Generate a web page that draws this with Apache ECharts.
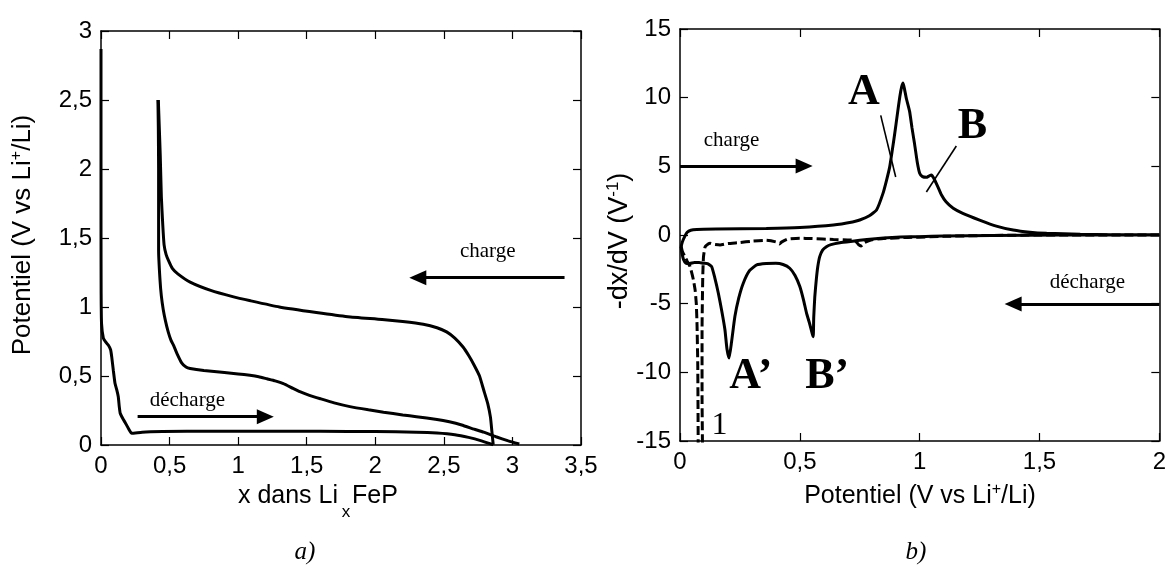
<!DOCTYPE html>
<html>
<head>
<meta charset="utf-8">
<script src="https://cdn.jsdelivr.net/npm/echarts@6/dist/echarts.min.js"></script>
<style>
html,body{margin:0;padding:0;background:#fff;}
#chart{width:1169px;height:573px;}
</style>
</head>
<body>
<div id="chart"></div>
<script>
// ---------- Panel a) : potential vs x in LixFeP ----------
const aXTicks = [0, 0.5, 1, 1.5, 2, 2.5, 3, 3.5];
const aYTicks = [0, 0.5, 1, 1.5, 2, 2.5, 3];

const aFirstDischarge = [[0,2.87],[0,2.3],[0,1.6],[0.001,1.1],[0.004,0.88],[0.017,0.775],[0.035,0.745],[0.053,0.725],[0.07,0.69],[0.078,0.64],[0.09,0.54],[0.102,0.447],[0.115,0.4],[0.126,0.35],[0.133,0.28],[0.14,0.23],[0.16,0.19],[0.175,0.165],[0.2,0.12],[0.224,0.085],[0.3,0.093],[0.45,0.097],[0.8,0.1],[1.2,0.1],[1.6,0.1],[2.0,0.097],[2.3,0.093],[2.45,0.087],[2.58,0.075],[2.68,0.055],[2.78,0.028],[2.86,0.002]];

const aCharge = [[2.86,0.002],[2.85,0.1],[2.84,0.2],[2.82,0.3],[2.79,0.4],[2.76,0.5],[2.72,0.58],[2.68,0.65],[2.64,0.71],[2.58,0.775],[2.52,0.82],[2.45,0.85],[2.35,0.875],[2.2,0.895],[2.05,0.91],[1.8,0.93],[1.57,0.96],[1.3,1.0],[1.09,1.045],[0.96,1.075],[0.8,1.12],[0.65,1.18],[0.56,1.24],[0.52,1.28],[0.495,1.33],[0.475,1.38],[0.46,1.45],[0.45,1.6],[0.44,1.8],[0.432,2.1],[0.425,2.3],[0.418,2.5]];

const aSecondDischarge = [[0.415,2.5],[0.418,2.3],[0.42,2.0],[0.42,1.7],[0.42,1.41],[0.43,1.2],[0.44,1.08],[0.454,0.98],[0.47,0.9],[0.49,0.82],[0.51,0.76],[0.53,0.72],[0.555,0.66],[0.588,0.595],[0.62,0.565],[0.65,0.555],[0.75,0.54],[0.9,0.525],[1.0,0.515],[1.086,0.505],[1.15,0.495],[1.21,0.48],[1.27,0.465],[1.33,0.445],[1.4,0.41],[1.45,0.386],[1.52,0.36],[1.6,0.335],[1.7,0.305],[1.815,0.278],[1.95,0.255],[2.06,0.238],[2.2,0.218],[2.3,0.205],[2.45,0.185],[2.54,0.168],[2.63,0.145],[2.72,0.115],[2.79,0.093],[2.88,0.06],[2.97,0.03],[3.05,0.007]];

// annotations of panel a) (data coordinates)
const aArrows = [ [[3.38,1.212],[2.31,1.212]], [[0.267,0.205],[1.198,0.205]] ];
const aTexts = [ {text:'charge', at:[2.82,1.40]}, {text:'décharge', at:[0.63,0.325]} ];

// ---------- Panel b) : -dx/dV vs potential ----------
const bXTicks = [0, 0.5, 1, 1.5, 2];
const bYTicks = [-15, -10, -5, 0, 5, 10, 15];

const bCycle = [[2.0,0],[1.6,0],[1.3,-0.03],[1.1,-0.08],[1.0,-0.12],[0.92,-0.15],[0.85,-0.22],[0.78,-0.33],[0.72,-0.45],[0.667,-0.56],[0.63,-0.7],[0.611,-0.85],[0.595,-1.1],[0.583,-1.58],[0.575,-2.3],[0.569,-3.2],[0.5625,-4.48],[0.558,-6.0],[0.556,-7.4],[0.552,-7.2],[0.54,-6.4],[0.528,-5.69],[0.515,-4.7],[0.5,-3.75],[0.48,-2.95],[0.458,-2.42],[0.43,-2.15],[0.40,-2.06],[0.36,-2.08],[0.32,-2.18],[0.29,-2.6],[0.264,-3.51],[0.245,-4.6],[0.229,-5.94],[0.215,-7.8],[0.205,-8.96],[0.196,-8.3],[0.1875,-6.9],[0.175,-5.6],[0.16,-4.24],[0.145,-3.1],[0.132,-2.3],[0.115,-2.08],[0.097,-2.06],[0.08,-2.0],[0.06,-2.0],[0.04,-2.08],[0.025,-2.06],[0.015,-1.8],[0.008,-1.3],[0.005,-0.9],[0.01,-0.5],[0.02,-0.1],[0.03,0.2],[0.045,0.35],[0.07,0.4],[0.15,0.43],[0.36,0.48],[0.5,0.55],[0.64,0.73],[0.72,0.95],[0.75,1.09],[0.79,1.4],[0.82,1.82],[0.847,3.03],[0.862,4.0],[0.875,4.96],[0.886,6.2],[0.896,7.39],[0.907,8.8],[0.917,10.05],[0.925,10.8],[0.931,11.07],[0.937,10.6],[0.945,9.9],[0.958,9.0],[0.968,7.8],[0.979,6.6],[0.99,5.3],[1.0,4.5],[1.012,4.25],[1.028,4.2],[1.04,4.3],[1.049,4.36],[1.06,4.1],[1.076,3.51],[1.09,2.95],[1.11,2.42],[1.14,1.95],[1.18,1.58],[1.25,1.09],[1.32,0.65],[1.39,0.36],[1.46,0.2],[1.53,0.12],[1.67,0.05],[1.8,0.02],[2.0,0.02]];

const bFirstDischarge = [[2.0,0],[1.5,0],[1.3,-0.03],[1.1,-0.1],[0.95,-0.18],[0.85,-0.25],[0.8,-0.35],[0.77,-0.55],[0.755,-0.8],[0.745,-0.7],[0.73,-0.4],[0.7,-0.36],[0.64,-0.33],[0.55,-0.26],[0.5,-0.24],[0.45,-0.3],[0.425,-0.5],[0.415,-0.65],[0.4,-0.5],[0.36,-0.38],[0.3,-0.45],[0.25,-0.55],[0.2,-0.62],[0.167,-0.73],[0.14,-0.68],[0.125,-0.6],[0.11,-0.75],[0.104,-0.9],[0.098,-1.6],[0.095,-3],[0.092,-6.9],[0.092,-11.75],[0.094,-16],[0.094,-30],[0.076,-30],[0.076,-16],[0.075,-12],[0.074,-9.3],[0.071,-6.5],[0.068,-5.0],[0.063,-4.0],[0.056,-3.27],[0.042,-2.3],[0.03,-1.9],[0.021,-1.58],[0.01,-1.2],[0.003,-0.7]];

// annotations of panel b) (data coordinates)
const bArrows = [ [[0,5.02],[0.518,5.02]], [[2.0,-5.03],[1.39,-5.03]] ];
const bLeaders = [ [[0.8375,8.71],[0.9,4.22]], [[1.153,6.48],[1.028,3.13]] ];
const bTexts = [ {text:'charge', at:[0.215,6.9], size:21}, {text:'décharge', at:[1.70,-3.45], size:21},
                 {text:'A', at:[0.767,10.4], size:44, bold:true}, {text:'B', at:[1.22,7.9], size:44, bold:true},
                 {text:'A’', at:[0.296,-10.3], size:44, bold:true}, {text:'B’', at:[0.614,-10.3], size:44, bold:true},
                 {text:'1', at:[0.165,-13.9], size:32} ];

// ---------- styles ----------
const SANS = '"Liberation Sans", Arial, sans-serif';
const SERIF = '"Liberation Serif", "Times New Roman", serif';
const comma = v => String(v).replace('.', ',');

function axis(gridIndex, position, ticks, showLabels) {
  return {
    type: 'value', gridIndex, position,
    min: ticks[0], max: ticks[ticks.length - 1], interval: ticks[1] - ticks[0],
    axisLine: {show: true, onZero: false, lineStyle: {color: '#000', width: 1.5}},
    axisTick: {show: true, inside: true, length: 8, lineStyle: {color: '#000', width: 1.2}},
    axisLabel: {show: showLabels, formatter: comma, color: '#000', fontFamily: SANS, fontSize: 24, margin: 9},
    splitLine: {show: false}
  };
}

function curve(data, xi, yi, dashed) {
  return {
    type: 'line', data, xAxisIndex: xi, yAxisIndex: yi,
    showSymbol: false, symbol: 'none', smooth: 0.15, clip: true,
    lineStyle: {color: '#000', width: 3, type: dashed ? [9, 4] : 'solid'},
    animation: false, silent: true
  };
}

function arrowsSeries(arrows, xi, yi) {
  return {
    type: 'line', data: [], xAxisIndex: xi, yAxisIndex: yi, silent: true, animation: false,
    markLine: {
      silent: true, animation: false, symbol: ['none', 'triangle'], symbolSize: [15, 17],
      label: {show: false},
      itemStyle: {color: '#000'},
      lineStyle: {color: '#000', width: 3, type: 'solid'},
      data: arrows.map(a => [{coord: a[0]}, {coord: a[1]}])
    }
  };
}

function leadersSeries(lines, xi, yi) {
  return {
    type: 'line', data: [], xAxisIndex: xi, yAxisIndex: yi, silent: true, animation: false,
    markLine: {
      silent: true, animation: false, symbol: ['none', 'none'],
      label: {show: false},
      lineStyle: {color: '#000', width: 1.6, type: 'solid'},
      data: lines.map(a => [{coord: a[0]}, {coord: a[1]}])
    }
  };
}

function textSeries(texts, xi, yi) {
  return {
    type: 'scatter', xAxisIndex: xi, yAxisIndex: yi, symbolSize: 0, silent: true, animation: false,
    clip: false,
    itemStyle: {opacity: 1, color: '#000'},
    emphasis: {disabled: true},
    data: texts.map(t => ({name: t.text, value: t.at,
      label: {fontSize: t.size || 21, fontWeight: t.bold ? 'bold' : 'normal'}})),
    label: {show: true, position: 'inside', formatter: '{b}', color: '#000', opacity: 1,
            fontFamily: SERIF, fontSize: 21, textBorderWidth: 0}
  };
}

const chart = echarts.init(document.getElementById('chart'));
chart.setOption({
  backgroundColor: '#fff',
  animation: false,
  grid: [
    {left: 101, top: 31, width: 480, height: 414},
    {left: 680, top: 29, width: 480, height: 412}
  ],
  xAxis: [
    axis(0, 'bottom', aXTicks, true),
    axis(0, 'top', aXTicks, false),
    axis(1, 'bottom', bXTicks, true),
    axis(1, 'top', bXTicks, false)
  ],
  yAxis: [
    axis(0, 'left', aYTicks, true),
    axis(0, 'right', aYTicks, false),
    axis(1, 'left', bYTicks, true),
    axis(1, 'right', bYTicks, false)
  ],
  series: [
    curve(aFirstDischarge, 0, 0, false),
    curve(aCharge, 0, 0, false),
    curve(aSecondDischarge, 0, 0, false),
    arrowsSeries(aArrows, 0, 0),
    textSeries(aTexts, 0, 0),
    curve(bFirstDischarge, 2, 2, true),
    curve(bCycle, 2, 2, false),
    arrowsSeries(bArrows, 2, 2),
    leadersSeries(bLeaders, 2, 2),
    textSeries(bTexts, 2, 2)
  ],
  graphic: [
    // panel a) x-axis title with subscript
    {type: 'text', x: 338, y: 496, style: {text: 'x dans Li', font: '25px ' + SANS, fill: '#000', align: 'right', verticalAlign: 'middle'}},
    {type: 'text', x: 346, y: 512, style: {text: 'x', font: '17px ' + SANS, fill: '#000', align: 'center', verticalAlign: 'middle'}},
    {type: 'text', x: 352, y: 496, style: {text: 'FeP', font: '25px ' + SANS, fill: '#000', align: 'left', verticalAlign: 'middle'}},
    // panel b) x-axis title with superscript
    {type: 'text', x: 920, y: 496, style: {
      text: '{a|Potentiel (V vs Li}{s|+}{a|/Li)}', align: 'center', verticalAlign: 'middle',
      rich: {a: {fontFamily: SANS, fontSize: 25, lineHeight: 28, fill: '#000'},
             s: {fontFamily: SANS, fontSize: 16, lineHeight: 16, verticalAlign: 'top', fill: '#000'}}}},
    // panel a) y-axis title
    {type: 'text', x: 23, y: 235, rotation: Math.PI / 2, style: {
      text: '{a|Potentiel (V vs Li}{s|+}{a|/Li)}', align: 'center', verticalAlign: 'middle',
      rich: {a: {fontFamily: SANS, fontSize: 26, lineHeight: 28, fill: '#000'},
             s: {fontFamily: SANS, fontSize: 16, lineHeight: 16, verticalAlign: 'top', fill: '#000'}}}},
    // panel b) y-axis title
    {type: 'text', x: 620, y: 241, rotation: Math.PI / 2, style: {
      text: '{a|-dx/dV (V}{s|-1}{a|)}', align: 'center', verticalAlign: 'middle',
      rich: {a: {fontFamily: SANS, fontSize: 27, lineHeight: 30, fill: '#000'},
             s: {fontFamily: SANS, fontSize: 17, lineHeight: 17, verticalAlign: 'top', fill: '#000'}}}},
    // panel captions
    {type: 'text', x: 305, y: 552, style: {text: 'a)', font: 'italic 25px ' + SERIF, fill: '#000', align: 'center', verticalAlign: 'middle'}},
    {type: 'text', x: 916, y: 552, style: {text: 'b)', font: 'italic 25px ' + SERIF, fill: '#000', align: 'center', verticalAlign: 'middle'}}
  ]
});
</script>
</body>
</html>
